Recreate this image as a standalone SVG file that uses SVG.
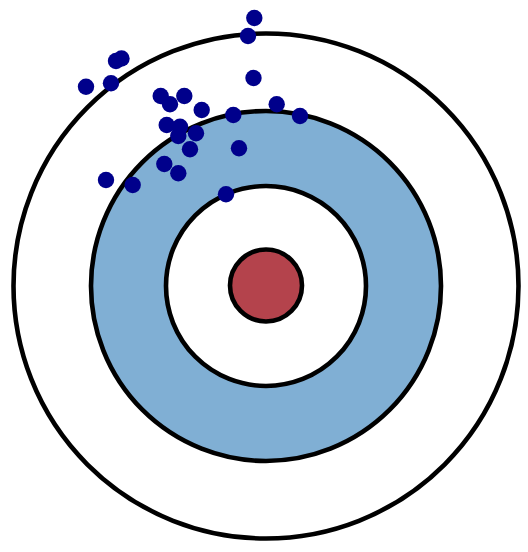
<svg xmlns="http://www.w3.org/2000/svg" width="528" height="552" viewBox="0 0 528 552">
<style>
.ring{stroke:#000;stroke-width:4.6}
.dot{fill:#00008b}
</style>
<rect width="528" height="552" fill="#fff"/>
<g id="target">
<circle class="ring" cx="266" cy="286" r="252.5" fill="#fff"/>
<circle class="ring" cx="266" cy="286" r="175" fill="#80afd4"/>
<circle class="ring" cx="266" cy="286" r="100" fill="#fff"/>
<circle class="ring" cx="266" cy="285.5" r="36" fill="#b4434c"/>
</g>
<g id="shots">
<circle class="dot" cx="254.3" cy="18" r="8.2"/>
<circle class="dot" cx="248" cy="36" r="8.2"/>
<circle class="dot" cx="121.5" cy="58.5" r="8.2"/>
<circle class="dot" cx="116" cy="61" r="8.2"/>
<circle class="dot" cx="86" cy="86.7" r="8.2"/>
<circle class="dot" cx="111" cy="83.3" r="8.2"/>
<circle class="dot" cx="253.5" cy="78" r="8.2"/>
<circle class="dot" cx="160.7" cy="96" r="8.2"/>
<circle class="dot" cx="170" cy="104.3" r="8.2"/>
<circle class="dot" cx="184.3" cy="96" r="8.2"/>
<circle class="dot" cx="201.7" cy="110" r="8.2"/>
<circle class="dot" cx="233.3" cy="115" r="8.2"/>
<circle class="dot" cx="276.7" cy="104.3" r="8.2"/>
<circle class="dot" cx="300" cy="116" r="8.2"/>
<circle class="dot" cx="166.7" cy="125" r="8.2"/>
<circle class="dot" cx="180" cy="126.7" r="8.2"/>
<circle class="dot" cx="178.3" cy="136" r="8.2"/>
<circle class="dot" cx="196" cy="133.3" r="8.2"/>
<circle class="dot" cx="190" cy="149.3" r="8.2"/>
<circle class="dot" cx="239" cy="148.3" r="8.2"/>
<circle class="dot" cx="164.3" cy="164" r="8.2"/>
<circle class="dot" cx="178.3" cy="173.3" r="8.2"/>
<circle class="dot" cx="106" cy="180" r="8.2"/>
<circle class="dot" cx="132.7" cy="185" r="8.2"/>
<circle class="dot" cx="226" cy="194.3" r="8.2"/>
</g>
</svg>
